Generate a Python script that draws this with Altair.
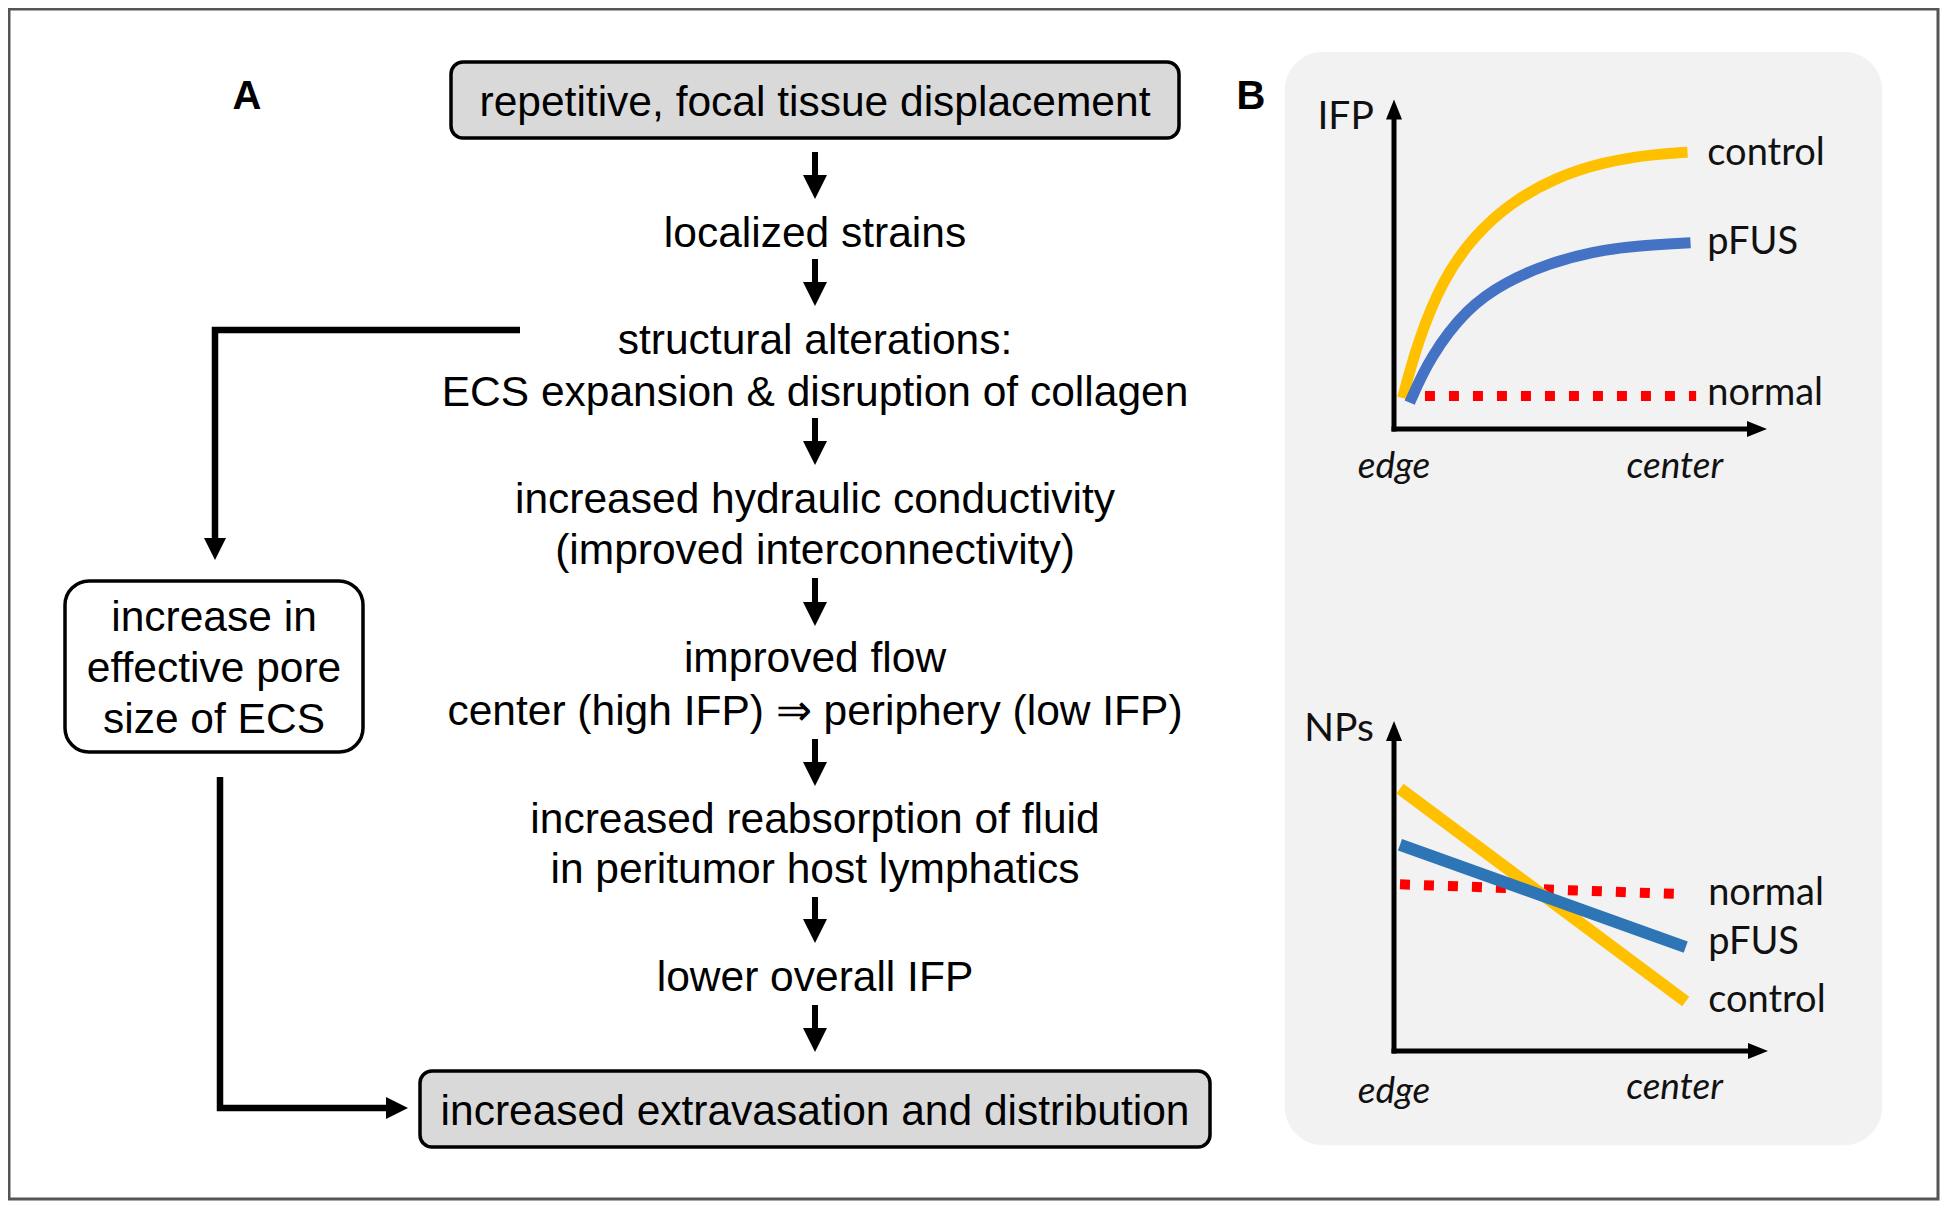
import altair as alt
import pandas as pd

# ---------------- data (texts and curve values) ----------------
panel_labels = ["A", "B"]
top_box_text = "repetitive, focal tissue displacement"
bottom_box_text = "increased extravasation and distribution"
flow_steps = [
    "localized strains",
    "structural alterations:",
    "ECS expansion & disruption of collagen",
    "increased hydraulic conductivity",
    "(improved interconnectivity)",
    "improved flow",
    "center (high IFP) \u21d2 periphery (low IFP)",
    "increased reabsorption of fluid",
    "in peritumor host lymphatics",
    "lower overall IFP",
]
side_box_lines = ["increase in", "effective pore", "size of ECS"]
series_names = ["control", "pFUS", "normal"]
axis_ends = ["edge", "center"]
ifp_title = "IFP"
nps_title = "NPs"

# Panel B, top: IFP from edge (0) to center (1), relative units
ifp_control_x = [0.023, 0.063, 0.130, 0.213, 0.313, 0.430, 0.563, 0.697, 0.787]
ifp_control_y = [0.094, 0.264, 0.453, 0.585, 0.687, 0.762, 0.811, 0.834, 0.840]
ifp_pfus_x = [0.042, 0.095, 0.195, 0.300, 0.416, 0.532, 0.647, 0.795]
ifp_pfus_y = [0.080, 0.216, 0.367, 0.447, 0.503, 0.538, 0.556, 0.565]
ifp_normal_x = [0.083, 0.810]
ifp_normal_y = [0.100, 0.100]

# Panel B, bottom: NPs from edge (0) to center (1), relative units
nps_x = [0.016, 0.780]
nps_control_y = [0.795, 0.150]
nps_pfus_y = [0.625, 0.315]
nps_normal_y = [0.505, 0.475]

# ---------------- layout (page pixels) ----------------
W, H, M = 1934, 1195, 8
FONT = "Liberation Sans"
BFONT = "Lato"
FS = 42.5
DY = 2.5

flow_cx = 815
flow_step_y = [231, 338, 390.5, 497, 548, 656.5, 709, 817, 867, 975]
arrow_top = [152, 259, 418, 578, 739, 897, 1005]
arrow_tip = [199, 306, 465, 626, 786, 943, 1052]
top_box = (451, 62, 1179, 138)
bottom_box = (420, 1071, 1210, 1147)
side_box = (65, 581, 363, 752)
side_cx = 214
side_line_y = [615.5, 666.5, 717.5]
label_pos = [(247, 96), (1251, 96)]
frame = (9, 9, 1938, 1199)
grey_panel = (1285, 52, 1882, 1145)

# panel B plots: x range (left->right), y range (origin->top), in page px
ifp_xr = (1394, 1767)
ifp_yr = (429, 99.5)
nps_xr = (1394, 1768)
nps_yr = (1051, 721)


def sx():
    return alt.Scale(domain=[M, M + W], range=[0, W], nice=False, zero=False)


def sy():
    return alt.Scale(domain=[M, M + H], range=[0, H], nice=False, zero=False)


def bx(xr):
    return alt.Scale(domain=[0, 1], range=[xr[0] - M, xr[1] - M], nice=False, zero=False)


def by(yr):
    return alt.Scale(domain=[0, 1], range=[yr[0] - M, yr[1] - M], nice=False, zero=False)


def enc_xy(xs, ys, xf="x", yf="y"):
    return dict(x=alt.X(f"{xf}:Q", scale=xs, axis=None),
                y=alt.Y(f"{yf}:Q", scale=ys, axis=None))


def rect_layer(box, fill, stroke, sw, radius):
    df = pd.DataFrame({"x": [box[0]], "y": [box[1]], "x2": [box[2]], "y2": [box[3]]})
    return alt.Chart(df).mark_rect(fill=fill, stroke=stroke, strokeWidth=sw,
                                   cornerRadius=radius).encode(
        x=alt.X("x:Q", scale=sx(), axis=None), x2="x2:Q",
        y=alt.Y("y:Q", scale=sy(), axis=None), y2="y2:Q")


def text_layer(xs_vals, ys_vals, labels, xs, ys, size, font=FONT, weight="normal",
               style="normal", align="center", color="black", dy=0):
    df = pd.DataFrame({"x": xs_vals, "y": ys_vals, "label": labels})
    return alt.Chart(df).mark_text(font=font, fontSize=size, fontWeight=weight,
                                   fontStyle=style, align=align, baseline="middle",
                                   color=color, dy=dy).encode(text="label:N", **enc_xy(xs, ys))


def polyline(xv, yv, xs, ys, color, sw, dash=None, cap="butt", interp="linear"):
    df = pd.DataFrame({"x": xv, "y": yv, "i": list(range(len(xv)))})
    kw = dict(color=color, strokeWidth=sw, strokeCap=cap, strokeJoin="miter",
              interpolate=interp)
    if dash:
        kw["strokeDash"] = dash
    return alt.Chart(df).mark_line(**kw).encode(order="i:Q", **enc_xy(xs, ys))


def head(xv, yv, xs, ys, shape, size):
    df = pd.DataFrame({"x": xv, "y": yv})
    return alt.Chart(df).mark_point(shape=shape, size=size, filled=True, color="black",
                                    opacity=1, strokeWidth=0).encode(**enc_xy(xs, ys))


DOWN = "M-1,-1L1,-1L0,1Z"
RIGHT = "M-1,-1L1,0L-1,1Z"
UP_B = "M-0.8,1L0.8,1L0,-1Z"
RIGHT_B = "M-1,-0.8L1,0L-1,0.8Z"

layers = []
layers.append(rect_layer(frame, "white", "#555555", 3, 0))
layers.append(rect_layer(grey_panel, "#f2f2f2", "#f2f2f2", 0.5, 38))
layers.append(rect_layer(top_box, "#d9d9d9", "black", 3.5, 12))
layers.append(rect_layer(bottom_box, "#d9d9d9", "black", 3.5, 12))
layers.append(rect_layer(side_box, "white", "black", 3.5, 24))

# panel letters
layers.append(text_layer([p[0] for p in label_pos], [p[1] for p in label_pos],
                         panel_labels, sx(), sy(), 40, weight="bold", dy=1))

# flowchart texts
layers.append(text_layer([flow_cx], [100.5], [top_box_text], sx(), sy(), FS, dy=DY))
layers.append(text_layer([flow_cx] * len(flow_steps), flow_step_y, flow_steps, sx(), sy(), FS, dy=DY))
layers.append(text_layer([flow_cx], [1109], [bottom_box_text], sx(), sy(), FS, dy=DY))
layers.append(text_layer([side_cx] * 3, side_line_y, side_box_lines, sx(), sy(), FS, dy=DY))

# flowchart down arrows
for t, b in zip(arrow_top, arrow_tip):
    layers.append(polyline([flow_cx, flow_cx], [t, b - 20], sx(), sy(), "black", 6))
layers.append(head([flow_cx] * len(arrow_tip), [b - 12 for b in arrow_tip], sx(), sy(),
                   DOWN, 24 * 24))

# side connectors
layers.append(polyline([520, 215, 215], [330, 330, 542], sx(), sy(), "black", 6.5))
layers.append(head([215], [560 - 11], sx(), sy(), DOWN, 22 * 22))
layers.append(polyline([220, 220, 390], [777, 1108, 1108], sx(), sy(), "black", 6.5))
layers.append(head([408 - 11], [1108], sx(), sy(), RIGHT, 22 * 22))


def b_plot(xr, yr, curves, labels_y, title, title_y, end_y, center_x):
    xs, ys = bx(xr), by(yr)
    xlen = xr[1] - xr[0]
    ylen = yr[0] - yr[1]
    out = []
    # axes
    out.append(polyline([0, 0], [0, 1 - 16 / ylen], xs, ys, "black", 5, cap="square"))
    out.append(polyline([0, 1 - 16 / xlen], [0, 0], xs, ys, "black", 5, cap="square"))
    out.append(head([0], [1 - 10 / ylen], xs, ys, UP_B, 400))
    out.append(head([1 - 10 / xlen], [0], xs, ys, RIGHT_B, 400))
    # curves
    for c in curves:
        out.append(polyline(c["x"], c["y"], xs, ys, c["color"], c["w"], dash=c.get("dash"),
                            interp=c.get("interp", "linear")))
    # labels
    out.append(text_layer([0.84] * 3, labels_y, series_names, xs, ys, 38, font=BFONT,
                          align="left", color="#111111", dy=2))
    out.append(text_layer([-0.054], [title_y], [title], xs, ys, 39, font=BFONT,
                          align="right", color="#111111", dy=1))
    out.append(text_layer([0.0, center_x], end_y, axis_ends, xs, ys, 37, font=BFONT,
                          style="italic", color="#111111", dy=1))
    return out


ifp_curves = [
    dict(x=ifp_normal_x, y=ifp_normal_y, color="#ff0000", w=10, dash=[10, 14]),
    dict(x=ifp_control_x, y=ifp_control_y, color="#ffc000", w=11, interp="basis"),
    dict(x=ifp_pfus_x, y=ifp_pfus_y, color="#4472c4", w=11, interp="basis"),
]
layers += b_plot(ifp_xr, ifp_yr, ifp_curves,
                 [0.842, 0.57, 0.113], ifp_title, 0.951, [-0.112, -0.112], 0.753)

nps_curves = [
    dict(x=nps_x, y=nps_normal_y, color="#ff0000", w=10, dash=[10, 14]),
    dict(x=nps_x, y=nps_control_y, color="#ffc000", w=12),
    dict(x=nps_x, y=nps_pfus_y, color="#2e75b6", w=12),
]
layers += b_plot(nps_xr, nps_yr, nps_curves,
                 [0.159, 0.332, 0.483], nps_title, 0.98, [-0.12, -0.109], 0.75)

chart = alt.layer(*layers).resolve_scale(x="independent", y="independent").properties(
    width=W, height=H, padding=0, autosize=alt.AutoSizeParams(type="none")
).configure_view(stroke=None)

chart.save("out.html", embed_options={"renderer": "svg", "actions": False})
